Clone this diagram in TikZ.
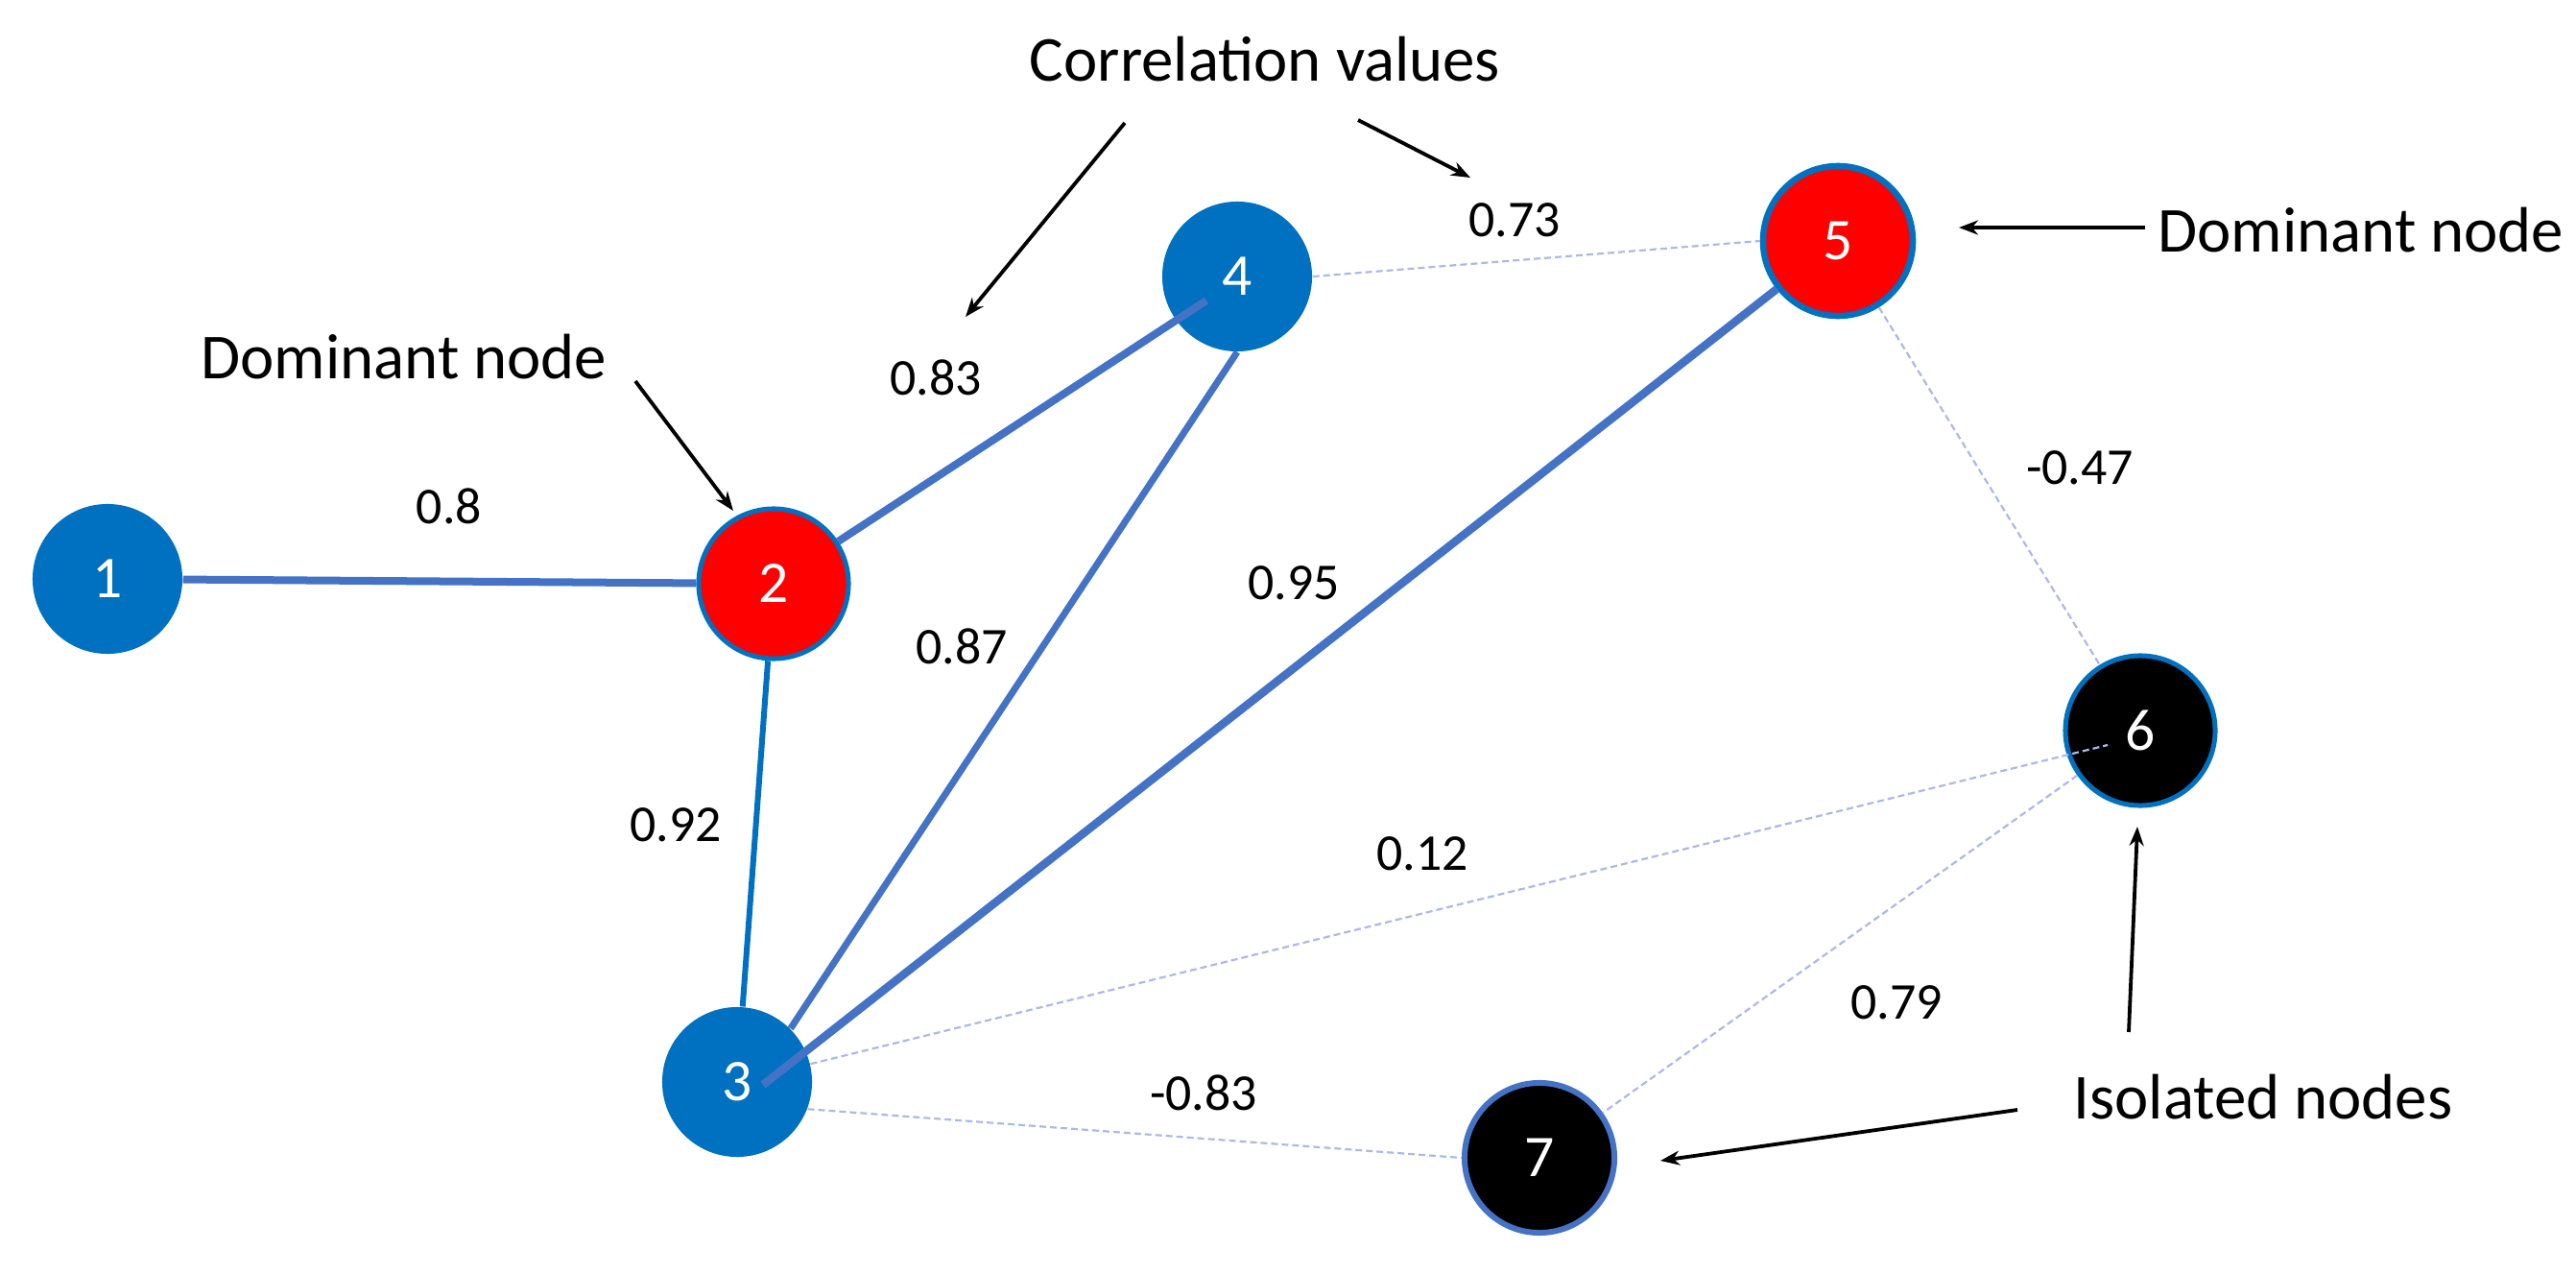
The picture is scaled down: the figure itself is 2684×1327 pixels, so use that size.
\documentclass[tikz,border=0pt]{standalone}
\usepackage{fontspec}
\setmainfont{Carlito}
\usetikzlibrary{arrows.meta,calc}
\definecolor{nblue}{HTML}{0070C0}
\definecolor{eblue}{HTML}{4472C4}
\definecolor{faint}{HTML}{AEB8E6}
\begin{document}
\begin{tikzpicture}[x=0.01cm,y=-0.01cm,
  gnode/.style={circle,minimum size=1.56cm,inner sep=0pt,text=white,font=\fontsize{17.5}{19}\selectfont},
  bluenode/.style={gnode,fill=nblue},
  domnode/.style={gnode,fill=red,draw=nblue,line width=0.05cm},
  isonode/.style={gnode,fill=black,draw=nblue,line width=0.05cm},
  strong/.style={eblue,line width=0.08cm},
  weak/.style={faint,line width=0.022cm,dash pattern=on 0.07cm off 0.04cm},
  val/.style={font=\fontsize{15.3}{17}\selectfont,inner sep=0pt},
  caption/.style={font=\fontsize{19}{22}\selectfont,inner sep=0pt},
  pointer/.style={-{Stealth[length=0.2cm,width=0.15cm]},line width=0.038cm}
]
\useasboundingbox (0,0) rectangle (2684,1327);

% nodes
\node[bluenode] (n1) at (112,603) {1};
\node[domnode]  (n2) at (806,608) {2};
\node[bluenode] (n3) at (768,1127) {3};
\node[bluenode] (n4) at (1289,288) {4};
\node[domnode, line width=0.065cm]  (n5) at (1915,251) {5};
\node[isonode]  (n6) at (2230,761) {6};
\node[isonode, draw=eblue, line width=0.06cm]  (n7) at (1604,1206) {7};

% strong edges
\draw[strong] (n1) -- (n2);
\draw[nblue,line width=0.06cm] (n2) -- (n3);
\coordinate (in4) at (1257,313);
\draw[strong] (n2) -- (in4);
\draw[strong,line width=0.07cm] (n4.south) -- (n3.45);
\coordinate (in3) at (795,1130);
\draw[strong,line width=0.085cm] (in3) -- (n5);

% weak edges
\draw[weak] (n4.east) -- (n5.west);
\draw[weak] (n5) -- (n6);
\coordinate (in6) at (2196,776);
\draw[weak] (n3) -- (in6);
\draw[weak] (n3.-21) -- (n7.west);
\draw[weak] (n6) -- (n7);

% correlation values
\node[val] (v12) at (468,527) {0.8};
\node[val] (v24) at (975,393) {0.83};
\node[val] (v45) at (1578,229) {0.73};
\node[val] (v23) at (704,859) {0.92};
\node[val] (v34) at (1002,673) {0.87};
\node[val] (v35) at (1348,607) {0.95};
\node[val] (v36) at (1482,889) {0.12};
\node[val] (v56) at (2167,487) {-0.47};
\node[val] (v67) at (1976,1044) {0.79};
\node[val] (v37) at (1254,1138) {-0.83};

% captions
\node[caption] (cdom1) at (421,372) {Dominant node};
\node[caption] (ccor) at (1318,62) {Correlation values};
\node[caption] (cdom2) at (2460,240) {Dominant node};
\node[caption] (ciso) at (2358,1143) {Isolated nodes};

% pointers
\coordinate (p1s) at (662,397);  \coordinate (p1e) at (764,532);
\coordinate (p2s) at (1172,128); \coordinate (p2e) at (1006,330);
\coordinate (p3s) at (1415,125); \coordinate (p3e) at (1532,185);
\coordinate (p4s) at (2235,237); \coordinate (p4e) at (2041,237);
\coordinate (p5s) at (2218,1075); \coordinate (p5e) at (2227,861);
\coordinate (p6s) at (2102,1156); \coordinate (p6e) at (1730,1209);
\draw[pointer] (p1s) -- (p1e);
\draw[pointer] (p2s) -- (p2e);
\draw[pointer] (p3s) -- (p3e);
\draw[pointer] (p4s) -- (p4e);
\draw[pointer] (p5s) -- (p5e);
\draw[pointer] (p6s) -- (p6e);
\end{tikzpicture}
\end{document}
